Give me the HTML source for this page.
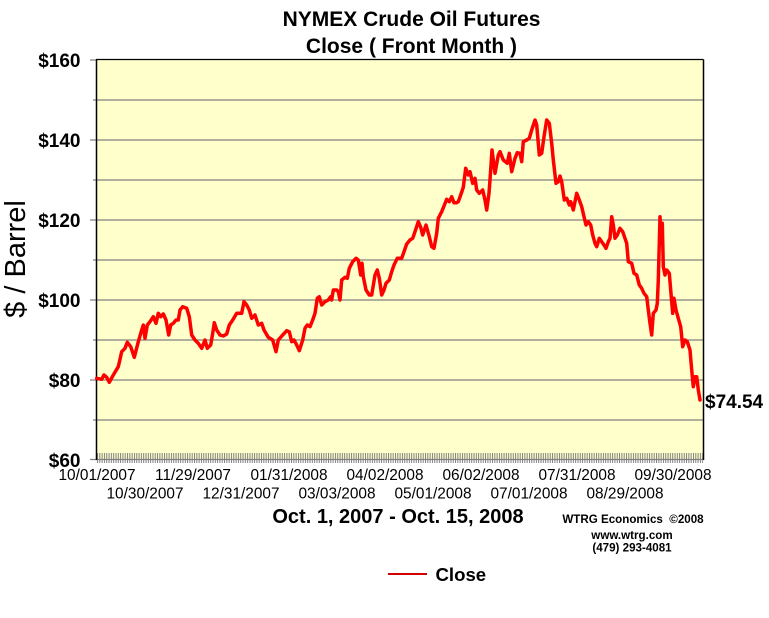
<!DOCTYPE html>
<html>
<head>
<meta charset="utf-8">
<style>
  html, body { margin: 0; padding: 0; background: #ffffff; }
  svg { display: block; }
  text { font-family: "Liberation Sans", Arial, sans-serif; fill: #000; }
</style>
</head>
<body>
<svg width="769" height="618" viewBox="0 0 769 618" xmlns="http://www.w3.org/2000/svg">
  <defs>
    <pattern id="tk" x="97" y="0" width="2.31" height="40" patternUnits="userSpaceOnUse">
      <rect x="0" y="0" width="1" height="40" fill="#808080"/>
    </pattern>
  </defs>
  <rect x="0" y="0" width="769" height="618" fill="#ffffff"/>

  <!-- Title -->
  <text x="411.5" y="26" font-size="21" font-weight="bold" text-anchor="middle">NYMEX Crude Oil Futures</text>
  <text x="411.5" y="53" font-size="21" font-weight="bold" text-anchor="middle">Close ( Front Month )</text>

  <!-- Plot area -->
  <rect x="96.5" y="60" width="607" height="400" fill="#ffffcc"/>

  <!-- gridlines -->
  <g stroke="#808080" stroke-width="1.2">
    <line x1="97" y1="100" x2="703" y2="100"/>
    <line x1="97" y1="140" x2="703" y2="140"/>
    <line x1="97" y1="180" x2="703" y2="180"/>
    <line x1="97" y1="220" x2="703" y2="220"/>
    <line x1="97" y1="260" x2="703" y2="260"/>
    <line x1="97" y1="300" x2="703" y2="300"/>
    <line x1="97" y1="340" x2="703" y2="340"/>
    <line x1="97" y1="380" x2="703" y2="380"/>
    <line x1="97" y1="420" x2="703" y2="420"/>
    <line x1="90" y1="459.5" x2="703" y2="459.5"/>
  </g>

  <!-- y ticks -->
  <g stroke="#808080" stroke-width="1.2">
    <line x1="90" y1="60" x2="96" y2="60"/>
    <line x1="93" y1="100" x2="96" y2="100"/>
    <line x1="90" y1="140" x2="96" y2="140"/>
    <line x1="93" y1="180" x2="96" y2="180"/>
    <line x1="90" y1="220" x2="96" y2="220"/>
    <line x1="93" y1="260" x2="96" y2="260"/>
    <line x1="90" y1="300" x2="96" y2="300"/>
    <line x1="93" y1="340" x2="96" y2="340"/>
    <line x1="90" y1="380" x2="96" y2="380"/>
    <line x1="93" y1="420" x2="96" y2="420"/>
  </g>

  <!-- x minor ticks -->
  <rect x="97" y="453" width="606" height="10" fill="url(#tk)"/>

  <!-- borders -->
  <line x1="96" y1="59.5" x2="703.5" y2="59.5" stroke="#000" stroke-width="1.3"/>
  <line x1="96.5" y1="59.5" x2="96.5" y2="460" stroke="#000" stroke-width="1.5"/>
  <line x1="703.5" y1="59.5" x2="703.5" y2="460" stroke="#000" stroke-width="1.5"/>

  <!-- series -->
  <polyline fill="none" stroke="#ff0000" stroke-width="3.5" stroke-linejoin="round" stroke-linecap="round"
    points="96.7,378.3 101.7,379.3 104,375 106.7,377.3 109.3,382.3 113.3,375 118.3,366.7 121.7,351.7 125,348.3 127.3,342.3 130.7,346.7 134.3,357.3 138.3,341.7 141.7,330 143.3,325 145,338.3 147.3,325 150,321.7 153.3,316.7 156,323.3 158.3,313.3 160.7,316.7 163.3,314 166,320 168.7,335 170.7,325 173.3,323.3 176,320 178.3,320 180,310 182.7,306.7 186.7,308.3 189.3,316.7 191.7,335 195,340 198.3,343.3 201.7,348.3 205,340 207.3,348.3 210.7,345 212.7,333.3 214.3,322.7 216.7,330 220,335 223.3,336 226.7,334 229.3,325 232.7,320 236.7,313.3 241.7,313.3 244,301.7 246.7,305 249.3,310 251.7,318.3 255,315 258.3,325 261.7,323.3 264,330 268.3,337.3 272.7,340 276,351.7 278.3,340 282.7,335 286.7,330.7 289.3,331.7 291.7,341.7 294,340 296.7,345 299.3,350.7 302.7,340 305,328.3 307.3,325 310,326.7 312.7,320 315,313.3 317.3,298.3 319.3,296.7 321.7,305 325,301.7 328.3,300 330.7,296.7 331.7,300 333.3,290 336.7,290 338.3,291.7 340,300 341.7,280 345,277.3 347.3,278.3 349.3,268.3 352.7,261.7 356,258.3 358.3,260 360.7,275 362,263.3 363.3,276.7 366,290 369.3,295 371.7,295 375,275 377.3,270 379.3,278.3 381.7,295 384,290 386,283.3 389.3,280 391.7,271.7 394,265 397.3,258.3 401.7,258.3 404,251.7 406.7,244 410,240 412.7,238.3 415,231.7 418.3,221.7 420.7,227.3 422.7,235 426,225 429.3,236.7 431.7,246.7 434,248.3 436.7,233.3 438.3,218.3 441.7,211.7 444,206 446.7,199.3 449.3,201.7 451.7,196.7 454,202.7 456.7,202.7 458.3,201.7 460.7,195 463.3,187.3 465.7,168.3 468.3,175 470,171.7 472.7,183.3 475,178.3 476.7,190 479.3,193.3 482.7,190 485,200 486.7,210 489,193.3 490.7,170 492,150 495,173.3 498.3,155 500,151.7 503.3,160 507.3,163.3 509.3,153.3 511.7,171.7 515,158.3 517.3,152.7 520,153.3 521.7,161.7 523.3,141.7 526.7,140 529.3,138.3 531.7,130 535,120 536.7,125 539.3,155 541.7,153.3 544,136.7 546.7,120 549.3,123.3 551.7,143.3 553.3,160 556,183.3 558.3,181.7 560,176 561.7,181.7 564.3,200 566.7,198.3 569.3,205 570.7,201.7 573.3,210 575,201.7 576.7,193.3 579.3,200 581.7,206.7 584,216.7 586,225 588.3,221.7 590.7,225 592.7,235 595,243.3 596.7,246.7 599.3,238.3 601.7,241.7 604,245 606,248.3 608.3,241.7 610,238.3 611.7,216.7 613.3,225 615,238.3 617.3,235 620,228.3 622.7,231.7 625,238.3 626.7,243.3 628.3,261.7 631.7,263.3 634,273.3 636.7,275 639.3,285 641.7,288.3 644,293.3 646.7,296.7 648.3,310 650,323.3 651.7,335 653.3,313.3 656,310 657.3,303.3 658.3,280 660,216.7 661,243.3 662.3,223.3 663.3,266.7 665,275 666.7,270 669.3,273.3 670.7,290 672.7,313.3 674,298.3 676,310 678.3,318.3 680.7,326.7 682.7,346.7 685,340 687.3,341.7 690,350 691.7,370 693.3,386.7 695,376.7 696.7,376.7 698.3,390 700,400"/>

  <!-- y labels -->
  <g font-size="19" font-weight="bold" text-anchor="end">
    <text x="80.5" y="67">$160</text>
    <text x="80.5" y="147">$140</text>
    <text x="80.5" y="227">$120</text>
    <text x="80.5" y="307">$100</text>
    <text x="80.5" y="387">$80</text>
    <text x="80.5" y="467">$60</text>
  </g>

  <!-- y axis title -->
  <text transform="translate(25,259) rotate(-90)" font-size="29" text-anchor="middle">$ / Barrel</text>

  <!-- last value -->
  <text x="705" y="408" font-size="19" font-weight="bold">$74.54</text>

  <!-- x labels -->
  <g font-size="15.4" text-anchor="middle">
    <text x="97" y="480">10/01/2007</text>
    <text x="193" y="480">11/29/2007</text>
    <text x="289" y="480">01/31/2008</text>
    <text x="385" y="480">04/02/2008</text>
    <text x="481" y="480">06/02/2008</text>
    <text x="577" y="480">07/31/2008</text>
    <text x="673" y="480">09/30/2008</text>
    <text x="145" y="498.5">10/30/2007</text>
    <text x="241" y="498.5">12/31/2007</text>
    <text x="337" y="498.5">03/03/2008</text>
    <text x="433" y="498.5">05/01/2008</text>
    <text x="529" y="498.5">07/01/2008</text>
    <text x="625" y="498.5">08/29/2008</text>
  </g>

  <!-- x axis title -->
  <text x="398" y="523" font-size="20" font-weight="bold" text-anchor="middle">Oct. 1, 2007 - Oct. 15, 2008</text>

  <!-- credits -->
  <g font-size="11.6" font-weight="bold" text-anchor="middle">
    <text x="633" y="523">WTRG Economics&#160; ©2008</text>
    <text x="632" y="539">www.wtrg.com</text>
    <text x="632" y="551.5">(479) 293-4081</text>
  </g>

  <!-- legend -->
  <line x1="388" y1="574" x2="427" y2="574" stroke="#d00000" stroke-width="2"/>
  <text x="435.5" y="581" font-size="18.6" font-weight="bold">Close</text>
</svg>
</body>
</html>
